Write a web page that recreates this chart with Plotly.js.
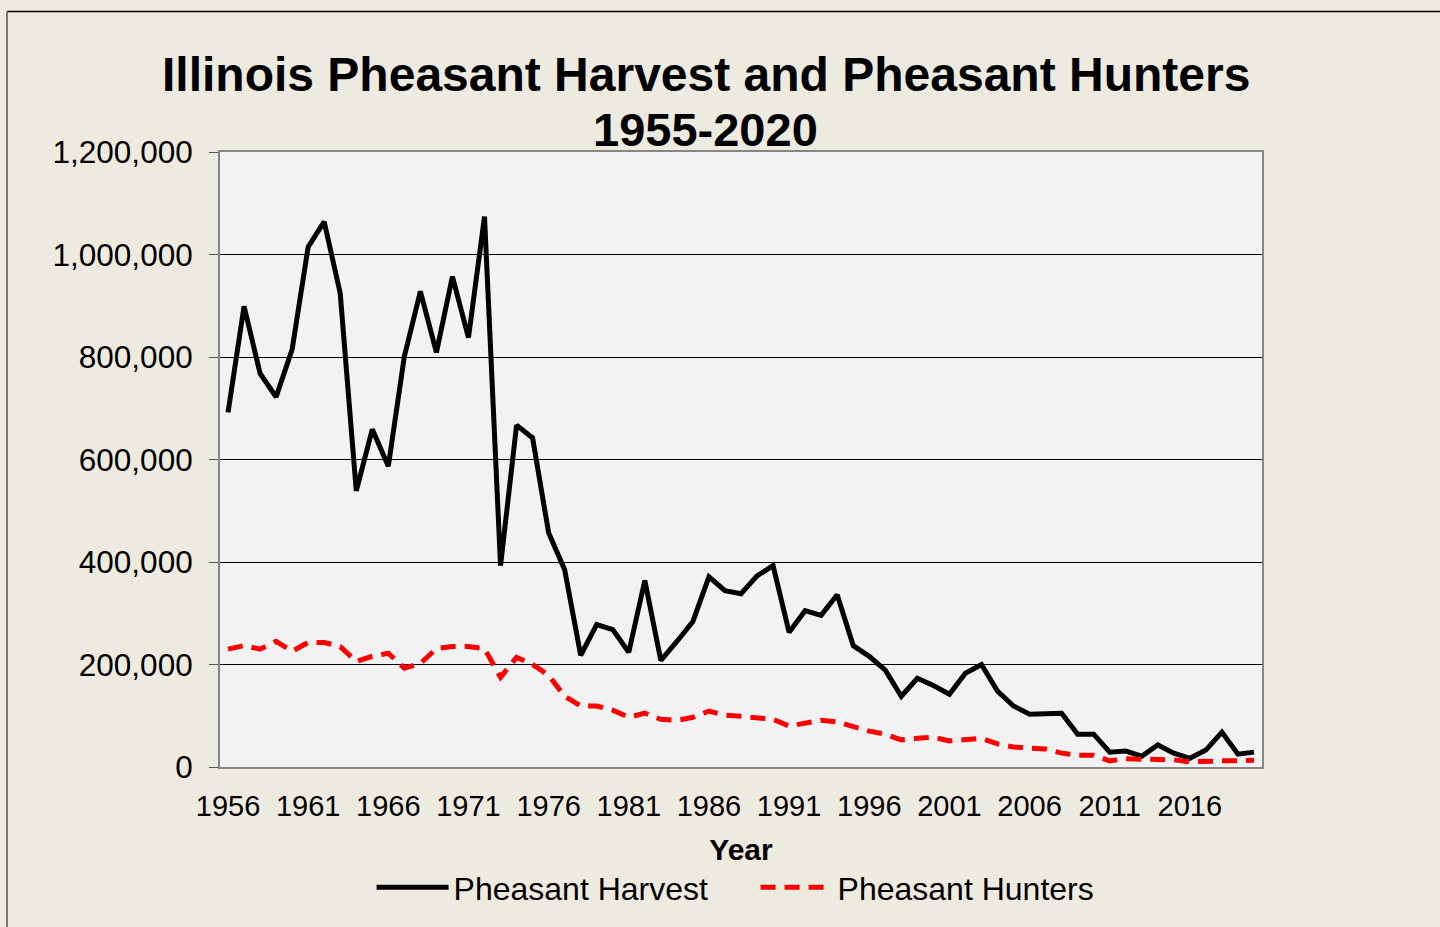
<!DOCTYPE html>
<html>
<head>
<meta charset="utf-8">
<script src="https://cdn.plot.ly/plotly-3.0.1.min.js"></script>
<style>
  html, body { margin: 0; padding: 0; background: #EDEBE0; }
  #chart { width: 1440px; height: 927px; }
</style>
</head>
<body>
<div id="chart"></div>
<script>
const years = [1956,1957,1958,1959,1960,1961,1962,1963,1964,1965,
  1966,1967,1968,1969,1970,1971,1972,1973,1974,1975,
  1976,1977,1978,1979,1980,1981,1982,1983,1984,1985,
  1986,1987,1988,1989,1990,1991,1992,1993,1994,1995,
  1996,1997,1998,1999,2000,2001,2002,2003,2004,2005,
  2006,2007,2008,2009,2010,2011,2012,2013,2014,2015,
  2016,2017,2018,2019,2020];

const pheasantHarvest = [692000,899000,768000,722000,815000,1015000,1064000,924000,539000,659000,
  587000,801000,928000,809000,957000,838000,1074000,393000,667000,642000,
  457000,385000,218000,278000,268000,224000,364000,208000,245000,284000,
  371000,344000,338000,373000,393000,263000,305000,296000,336000,237000,
  216000,189000,138000,173000,159000,142000,183000,200000,148000,119000,
  103000,103000,105000,64000,64000,29000,31000,21000,43000,27000,
  17000,33000,68000,25000,29000];

const pheasantHunters = [230000,237000,230000,245000,226000,243000,243000,235000,206000,216000,
  222000,193000,202000,231000,235000,235000,231000,175000,214000,200000,
  179000,138000,119000,119000,111000,97000,105000,93000,91000,97000,
  109000,101000,99000,97000,93000,80000,86000,91000,88000,78000,
  70000,64000,53000,56000,58000,51000,53000,56000,45000,39000,
  37000,35000,27000,23000,23000,12000,16000,16000,14000,14000,
  10000,12000,12000,12000,13000];

const xTickYears = [1956,1961,1966,1971,1976,1981,1986,1991,1996,2001,2006,2011,2016];
const xTickLabels = ["1956","1961","1966","1971","1976","1981","1986","1991","1996","2001","2006","2011","2016"];
const yTickValues = [0,200000,400000,600000,800000,1000000,1200000];
const yTickLabels = ["0","200,000","400,000","600,000","800,000","1,000,000","1,200,000"];

const titleLine1 = "Illinois Pheasant Harvest and Pheasant Hunters";
const titleLine2 = "1955-2020";
const seriesNames = ["Pheasant Harvest", "Pheasant Hunters"];

const FONT = '"Liberation Sans", Arial, sans-serif';

const traces = [
  {
    x: years, y: pheasantHarvest, name: seriesNames[0], type: 'scatter', mode: 'lines',
    line: { color: '#000000', width: 5 }
  },
  {
    x: years, y: pheasantHunters, name: seriesNames[1], type: 'scatter', mode: 'lines',
    line: { color: '#FF0000', width: 5, dash: '15px,9px' }
  }
];

const layout = {
  width: 1440, height: 927,
  paper_bgcolor: '#EDEBE0',
  plot_bgcolor: '#F2F2F2',
  margin: { l: 220, r: 178, t: 152, b: 158 },
  font: { family: FONT, color: '#000000' },
  showlegend: true,
  legend: {
    orientation: 'h', x: 0.514, xanchor: 'center', y: -0.196, yanchor: 'middle',
    font: { family: FONT, size: 32, color: '#000000' },
    bgcolor: 'rgba(0,0,0,0)', itemwidth: 72,
    entrywidth: 297, entrywidthmode: 'pixels'
  },
  xaxis: {
    range: [1955.5, 2020.5], automargin: false,
    tickmode: 'array', tickvals: xTickYears, ticktext: xTickLabels,
    ticks: '', showgrid: false, zeroline: false,
    showline: true, linecolor: '#868686', linewidth: 2, mirror: true,
    tickfont: { family: FONT, size: 29, color: '#000000' },
    ticklabelstandoff: 12,
    title: { text: '<b>Year</b>', font: { family: FONT, size: 30, color: '#000000' }, standoff: 18 }
  },
  yaxis: {
    range: [0, 1200000], automargin: false,
    tickmode: 'array', tickvals: yTickValues, ticktext: yTickLabels,
    ticks: 'outside', ticklen: 9, tickcolor: '#555555', tickwidth: 1,
    showgrid: true, gridcolor: '#000000', gridwidth: 1,
    zeroline: false,
    showline: true, linecolor: '#868686', linewidth: 2, mirror: true,
    tickfont: { family: FONT, size: 31.5, color: '#000000' },
    ticklabelstandoff: 10
  },
  annotations: [
    { text: '<b>' + titleLine1 + '</b>', xref: 'paper', yref: 'paper',
      x: 0.4664, y: (769 - 74) / 617, xanchor: 'center', yanchor: 'middle', showarrow: false,
      font: { family: FONT, size: 48, color: '#000000' } },
    { text: '<b>' + titleLine2 + '</b>', xref: 'paper', yref: 'paper',
      x: 0.4664, y: (769 - 129) / 617, xanchor: 'center', yanchor: 'middle', showarrow: false,
      font: { family: FONT, size: 47, color: '#000000' } }
  ],
  shapes: [
    { type: 'line', xref: 'paper', yref: 'paper',
      x0: (7 - 220) / 1042, x1: (1440 - 220) / 1042, y0: (769 - 11) / 617, y1: (769 - 11) / 617,
      line: { color: '#000000', width: 1.5 } },
    { type: 'line', xref: 'paper', yref: 'paper',
      x0: (7 - 220) / 1042, x1: (7 - 220) / 1042, y0: (769 - 11) / 617, y1: (769 - 930) / 617,
      line: { color: '#777777', width: 2 } }
  ]
};

Plotly.newPlot('chart', traces, layout, { staticPlot: true, displayModeBar: false });
</script>
</body>
</html>
